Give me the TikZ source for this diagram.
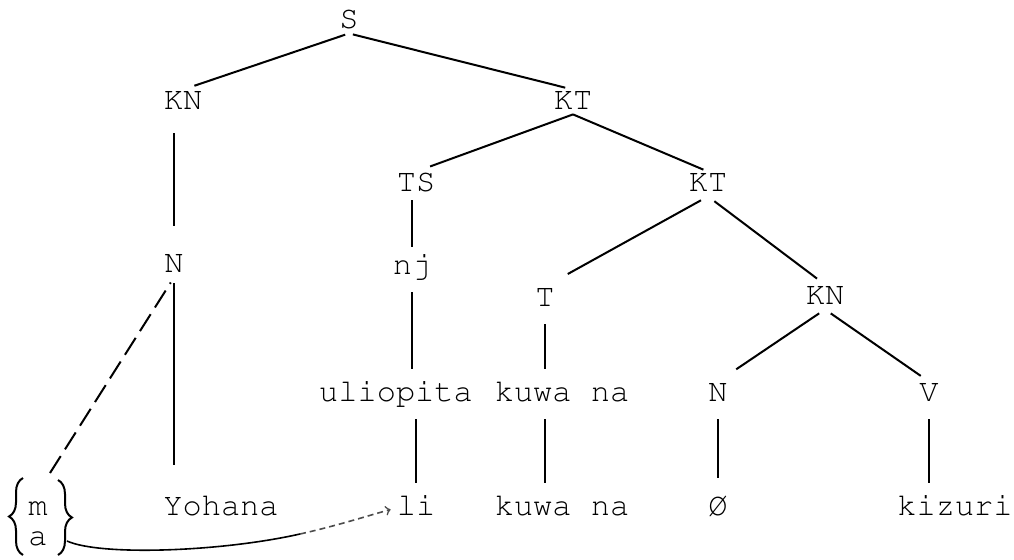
\documentclass[tikz,border=0pt]{standalone}
\usepackage[T1]{fontenc}
\usepackage{courier}
\usepackage{tikz}
\usetikzlibrary{positioning,arrows,calc,decorations.pathreplacing}

\begin{document}
\begin{tikzpicture}[x=0.5pt,y=-0.5pt,
  every node/.style={font=\ttfamily\fontsize{16}{18}\selectfont,
    text height=9.5pt, text depth=2.5pt, inner sep=0pt},
  branch/.style={line width=1pt, shorten >=6pt, shorten <=2pt},
  stem/.style={line width=1pt, shorten >=6.5pt, shorten <=6.5pt},
  trace/.style={line width=1pt, dash pattern=on 10pt off 4pt},
  brc/.style={line width=1pt, decorate, decoration={brace, amplitude=7pt}},
  link/.style={line width=.8pt}]

  \useasboundingbox (0,0) rectangle (1014,559);

  \node[] (s) at (349,21) {S};
  \node[] (kn) at (183,102) {KN};
  \node[] (kt) at (573,102) {KT};
  \node[] (ts) at (416,184) {TS};
  \node[] (kt2) at (708,184) {KT};
  \node[] (n) at (174,265) {N};
  \node[] (nj) at (412,267) {nj};
  \node[] (t) at (545,299) {T};
  \node[] (kn2) at (825,297) {KN};
  \node[] (ul) at (396,394) {uliopita};
  \node[] (kw) at (562,394) {kuwa na};
  \node[] (n2) at (718,394) {N};
  \node[] (v) at (929,394) {V};

  \node[] (yo) at (221,508) {Yohana};
  \node[] (li) at (416,508) {li};
  \node[] (kw2) at (562,508) {kuwa na};
  \node[] (ph) at (718,508) {\O};
  \node[] (ki) at (955,508) {kizuri};

  \node[] (m) at (38,508) {m};
  \node[] (a) at (38,538) {a};

  \draw[branch] (s.south)--(kn.north);
  \draw[branch, shorten >=4pt] (s.south)--(kt.north);
  \draw[branch, shorten >=7.5pt, shorten <=0pt] (kt.south)--(ts.north);
  \draw[branch, shorten >=2.5pt, shorten <=0pt] (kt.south)--(kt2.north);
  \draw[branch, shorten >=13pt, shorten <=4pt] (kt2.south)--(t.north);
  \draw[branch, shorten >=5pt, shorten <=4pt] (kt2.south)--(kn2.north);
  \draw[branch, shorten >=11pt, shorten <=3.5pt] (kn2.south)--(n2.north);
  \draw[branch, shorten >=5pt, shorten <=3.5pt] (kn2.south)--(v.north);

  \draw[stem, shorten <=9.5pt, shorten >=13.5pt] (n |- kn.south)--(n.north);
  \draw[stem, shorten <=3pt, shorten >=15.5pt] (n.south)--(n |- yo.north);
  \draw[stem, shorten <=2pt, shorten >=4pt] (nj |- ts.south)--(nj.north);
  \draw[stem] (nj.south)--(nj |- ul.north);
  \draw[stem] (li |- ul.south)--(li.north);
  \draw[stem] (t.south)--(t |- kw.north);
  \draw[stem] (t |- kw.south)--(t |- kw2.north);
  \draw[stem, shorten >=9pt] (n2.south)--(n2 |- ph.north);
  \draw[stem] (v.south)--(v |- ki.north);

  \draw[brc] (23,555)--(23,478);
  \draw[brc] (58,480)--(58,555);

  \coordinate (bt) at (50,473);
  \coordinate (hk) at (67,541);
  \coordinate (bd) at (300,534);

  \draw[trace, shorten >=3pt] (bt)--(n.south);
  \draw[link] (hk) .. controls (100,556) and (220,552) .. (bd);
  \draw[link, black!70, dash pattern=on 3pt off 2pt, ->, shorten >=3pt]
    (bd) .. controls (340,525) and (370,515) .. (li.west);

\end{tikzpicture}
\end{document}
